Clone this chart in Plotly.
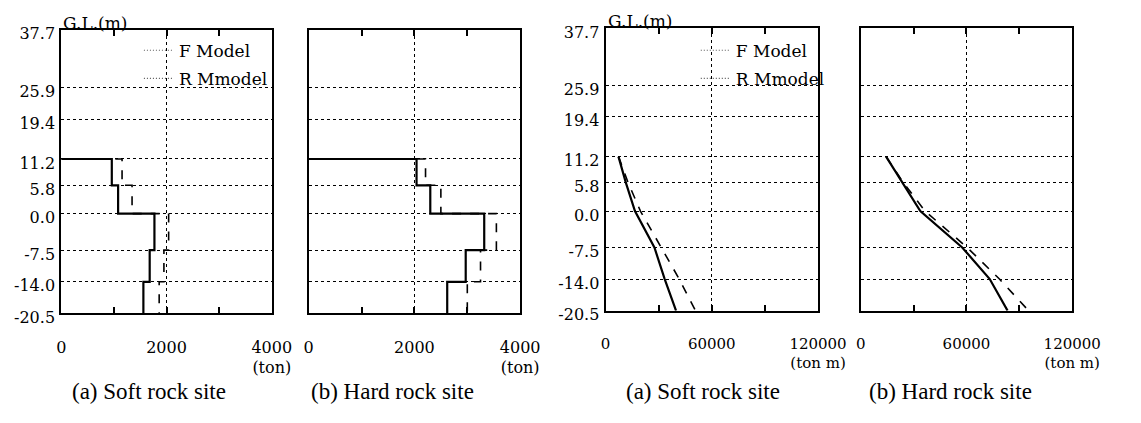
import plotly.graph_objects as go

# ---------------- data ----------------
depth_bounds = [11.2, 5.8, 0.0, -7.5, -14.0, -20.5]          # layer boundaries (m)
depth_ticks = [-20.5, -14.0, -7.5, 0.0, 5.8, 11.2, 19.4, 25.9, 37.7]
depth_labels = ["-20.5", "-14.0", "-7.5", "0.0", "5.8", "11.2", "19.4", "25.9", "37.7"]

# shear force per layer (ton)
shear_soft_F = [960, 1080, 1770, 1680, 1560]
shear_soft_R = [1155, 1345, 2040, 1950, 1860]
shear_hard_F = [2040, 2300, 3320, 2970, 2620]
shear_hard_R = [2210, 2500, 3550, 3250, 3000]

# bending moment at layer boundaries (ton m)
moment_soft_F = [7300, 11500, 16600, 27600, 33400, 39800]
moment_soft_R = [7300, 12800, 19700, 31600, 41600, 50800]
moment_hard_F = [14400, 23700, 33800, 57600, 73200, 83300]
moment_hard_R = [14400, 24300, 36500, 60400, 78700, 95200]

shear_ticks = [0, 2000, 4000]
shear_ticktext = ["0", "2000", "4000<br>(ton)"]
shear_minor = [1000, 3000]
moment_ticks = [0, 60000, 120000]
moment_ticktext = ["0", "60000", "120000<br>(ton m)"]
moment_minor = [30000, 90000]

series_names = ["F Model", "R Mmodel"]
subtitles = ["(a) Soft rock site", "(b) Hard rock site", "(a) Soft rock site", "(b) Hard rock site"]

# ---------------- figure ----------------
W, H = 1141, 423
SERIF = "Liberation Serif, Times New Roman, serif"
LABEL = "DejaVu Serif, serif"
panels = [((58, 275), (26, 323)), ((313, 531), (26, 323)),
          ((619, 838), (24, 320)), ((882, 1100), (24, 320))]

fig = go.Figure()

step_sets = [(shear_soft_F, shear_soft_R), (shear_hard_F, shear_hard_R)]
for i, (f, r) in enumerate(step_sets):
    ax = "" if i == 0 else str(i + 1)
    fig.add_trace(go.Scatter(x=[0] + f, y=depth_bounds, mode="lines", line_shape="hv",
                             line=dict(color="black", width=2.2), showlegend=False,
                             xaxis="x" + ax, yaxis="y" + ax))
    fig.add_trace(go.Scatter(x=[0] + r, y=depth_bounds, mode="lines", line_shape="hv",
                             line=dict(color="black", width=1.6, dash="dash"), showlegend=False,
                             xaxis="x" + ax, yaxis="y" + ax))

mom_sets = [(moment_soft_F, moment_soft_R), (moment_hard_F, moment_hard_R)]
for i, (f, r) in enumerate(mom_sets):
    ax = str(i + 3)
    fig.add_trace(go.Scatter(x=f, y=depth_bounds, mode="lines",
                             line=dict(color="black", width=2.2), showlegend=False,
                             xaxis="x" + ax, yaxis="y" + ax))
    fig.add_trace(go.Scatter(x=r, y=depth_bounds, mode="lines",
                             line=dict(color="black", width=1.6, dash="dash"), showlegend=False,
                             xaxis="x" + ax, yaxis="y" + ax))

# legend entries (drawn as dotted keys, like the original)
for lg, ax in (("legend", ""), ("legend2", "3")):
    for k, name in enumerate(series_names):
        fig.add_trace(go.Scatter(x=[None], y=[None], mode="lines", name=name,
                                 line=dict(color="#555", width=1.2, dash="1px,2px"),
                                 legend=lg, legendgroup=lg + str(k),
                                 xaxis="x" + ax, yaxis="y" + ax))

layout = dict(width=W, height=H, margin=dict(l=0, r=0, t=0, b=0),
              paper_bgcolor="white", plot_bgcolor="white",
              font=dict(family=LABEL, color="black", size=16))

for i, ((x0, x1), (y0, y1)) in enumerate(panels):
    n = "" if i == 0 else str(i + 1)
    shear = i < 2
    layout["xaxis" + n] = dict(
        domain=[x0 / W, x1 / W], anchor="y" + n,
        range=[0, 4000] if shear else [0, 120000],
        tickmode="array",
        tickvals=shear_ticks if shear else moment_ticks,
        ticktext=shear_ticktext if shear else moment_ticktext,
        ticks="inside", ticklen=6, tickwidth=1.5, tickcolor="black",
        minor=dict(tickvals=shear_minor if shear else moment_minor, ticks="inside",
                   ticklen=6, tickwidth=1.5, tickcolor="black", showgrid=False),
        showline=True, linecolor="black", linewidth=2, mirror="allticks",
        showgrid=True, gridcolor="black", griddash="dot", gridwidth=1.4,
        zeroline=False, ticklabelstandoff=18,
        tickfont=dict(family=LABEL, size=16 if shear else 15),
    )
    layout["yaxis" + n] = dict(
        domain=[(H - y1) / H, (H - y0) / H], anchor="x" + n,
        range=[-20.5, 37.7], tickmode="array", tickvals=depth_ticks, ticktext=depth_labels,
        showticklabels=(i in (0, 2)), ticks="",
        showline=True, linecolor="black", linewidth=2, mirror=True,
        showgrid=True, gridcolor="black", griddash="dot", gridwidth=1.4,
        zeroline=False, ticklabelshift=4, ticklabelstandoff=1,
        tickfont=dict(family=LABEL, size=16),
    )

for lg, xpx in (("legend", 138), ("legend2", 712)):
    layout[lg] = dict(x=xpx / W, y=(H - 29) / H, xanchor="left", yanchor="top",
                      bgcolor="rgba(0,0,0,0)", font=dict(family=LABEL, size=17),
                      itemwidth=30, tracegroupgap=3)

annotations = []
for n in ("", "3"):
    annotations.append(dict(text="G.L.(m)", xref="x" + n + " domain",
                            yref="y" + n + " domain", x=0, y=1, xanchor="left", yanchor="bottom",
                            xshift=0, yshift=-5, showarrow=False,
                            font=dict(family=LABEL, size=17)))
shifts = [-18, -22, -9, -16]
for i, t in enumerate(subtitles):
    n = "" if i == 0 else str(i + 1)
    annotations.append(dict(text=t, xref="x" + n + " domain", yref="paper",
                            x=0.5, y=(H - 405) / H, xanchor="center", yanchor="middle",
                            xshift=shifts[i], showarrow=False,
                            font=dict(family=SERIF, size=23)))
layout["annotations"] = annotations

fig.update_layout(**layout)
fig.write_html("out.html")
